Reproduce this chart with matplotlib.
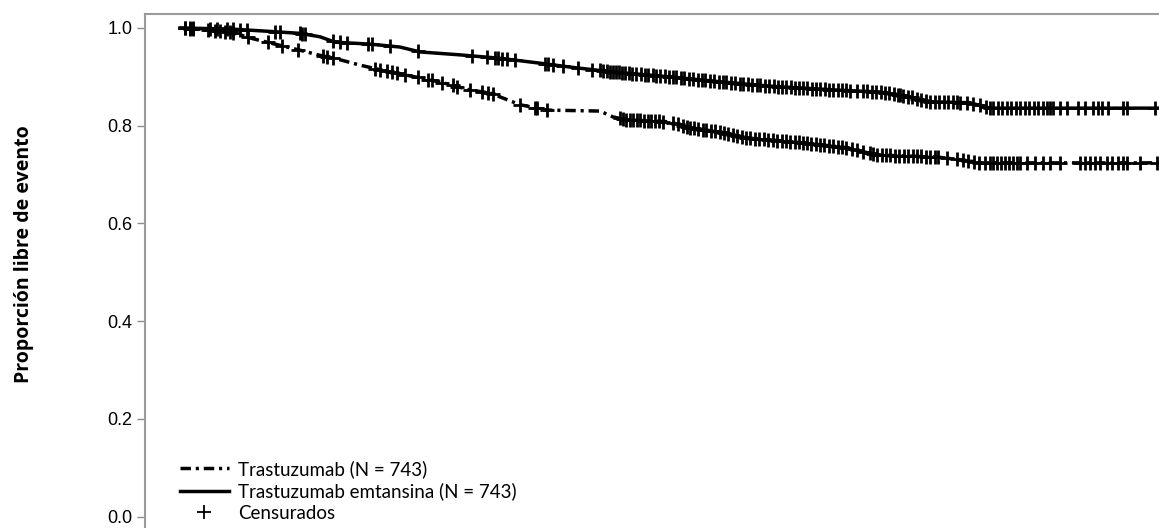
import matplotlib.pyplot as plt
import numpy as np
from matplotlib.lines import Line2D

t_tdm1 = [0, 5.0, 9.0, 12.0, 14.0, 15.5, 19.0, 22.0, 24.0, 28.0, 32.0, 36.0, 39.0,
          43.3, 49.0, 54.0, 59.0, 65.7, 70.0, 73.0, 75.0, 79.0, 81.0, 100]
s_tdm1 = [1.000, 0.998, 0.993, 0.989, 0.982, 0.971, 0.967, 0.961, 0.951, 0.945, 0.938,
          0.928, 0.920, 0.910, 0.900, 0.890, 0.881, 0.873, 0.869, 0.859, 0.849, 0.847,
          0.836, 0.836]

t_tras = [0, 5.0, 7.3, 8.7, 10.7, 12.3, 13.8, 16.0, 18.0, 21.0, 24.0, 26.3, 29.0, 31.0,
          34.0, 36.7, 42.0, 43.3, 44.7, 49.0, 51.0, 54.0, 56.7, 59.0, 62.3, 66.7, 69.7,
          75.7, 79.0, 80.0, 100]
s_tras = [1.000, 0.992, 0.978, 0.971, 0.961, 0.953, 0.945, 0.935, 0.924, 0.910, 0.898,
          0.888, 0.873, 0.867, 0.843, 0.832, 0.830, 0.818, 0.812, 0.808, 0.796, 0.787,
          0.775, 0.771, 0.765, 0.755, 0.740, 0.736, 0.728, 0.724, 0.724]

# Tiempos censurados
cens_tdm1 = [0.5, 1.0, 1.3, 3.0, 3.7, 4.7, 5.3, 6.0, 6.7, 9.5, 10.0, 12.0, 12.2, 12.5, 15.3,
             16.0, 16.7, 18.8, 19.2, 21.0, 23.8, 29.2, 30.7, 31.5, 31.8, 32.2, 32.7, 33.5,
             36.5, 36.8, 37.3, 38.3, 39.8, 41.2, 42.0, 42.3, 42.7, 43.0,
             43.3, 43.6, 43.9, 44.2, 44.5, 44.9, 45.2, 45.6, 46.1, 46.5, 46.8, 47.3, 47.6,
             48.0, 48.5, 48.9, 49.3, 49.6, 50.1, 50.4, 50.9, 51.3, 51.8, 52.2, 52.5, 53.0,
             53.4, 53.9, 54.3, 54.6, 55.1, 55.5, 56.0, 56.3, 56.8, 57.2, 57.7, 58.0, 58.5,
             58.9, 59.4, 59.8, 60.2, 60.6, 61.1, 61.5, 61.9, 62.3, 62.7, 63.2, 63.6, 64.0,
             64.5, 64.9, 65.3, 65.8, 66.2, 66.6, 67.0, 67.7, 68.3, 68.7, 69.2, 69.6, 70.1,
             70.5, 70.9, 71.4, 71.8, 72.0, 72.3, 72.8, 73.2, 73.7, 74.1, 74.6, 75.0, 75.5,
             75.9, 76.4, 76.8, 77.3, 77.7, 78.0, 78.7, 79.3, 80.0, 80.6, 81.0, 81.3, 81.8,
             82.2, 82.7, 83.1, 83.6, 84.0, 84.5, 84.9, 85.4, 85.8, 86.3, 86.7, 87.0, 87.3,
             88.0, 88.7, 89.8, 90.5, 91.3, 91.8, 92.2, 92.8, 94.3, 94.7, 97.5]
cens_tras = [0.5, 1.0, 1.3, 2.8, 3.5, 4.0, 4.5, 5.0, 5.3, 6.8, 8.8, 10.2, 11.8, 14.3, 14.7,
             15.3, 19.5, 20.0, 20.7, 21.2, 21.7, 22.5, 23.8, 24.8, 25.2, 26.2, 27.3, 27.7,
             29.0, 30.2, 30.8, 31.3, 34.0, 35.5, 35.7, 36.7,
             44.0, 44.3, 44.6, 45.0, 45.3, 45.7, 46.0, 46.4, 46.8, 47.1, 47.5, 47.9, 48.3,
             49.3, 49.8, 50.3, 50.7, 51.0, 51.4, 51.8, 52.3, 52.6, 53.1, 53.5, 54.0, 54.4,
             54.8, 55.3, 55.7, 56.2, 56.6, 57.0, 57.5, 57.9, 58.4, 58.8, 59.3, 59.7, 60.2,
             60.6, 61.0, 61.5, 61.9, 62.3, 62.7, 63.1, 63.6, 64.0, 64.4, 64.9, 65.3, 65.8,
             66.2, 66.6, 67.2, 67.7, 68.3, 69.0, 69.3, 69.7, 70.2, 70.6, 71.0, 71.5, 71.9,
             72.4, 72.8, 73.3, 73.7, 74.1, 74.6, 75.0, 75.5, 75.8, 76.7, 77.7, 78.3, 78.8,
             79.4, 79.9, 80.5, 81.0, 81.3, 81.7, 82.1, 82.5, 82.9, 83.3, 83.7, 84.0, 84.7,
             85.5, 86.3, 87.0, 88.0, 90.0, 90.5, 91.0, 91.5, 92.0, 92.7, 93.2, 93.8, 94.3,
             94.7, 96.0, 97.7]

labels = ['Trastuzumab (N = 743)', 'Trastuzumab emtansina (N = 743)', 'Censurados']
yticks = [0.0, 0.2, 0.4, 0.6, 0.8, 1.0]

W, H = 1159, 528
fig = plt.figure(figsize=(W / 100, H / 100), dpi=100)
# el eje se sale por abajo y por la derecha (imagen recortada)
ax = fig.add_axes([145 / W, 1 - 546 / H, (1200 - 145) / W, (546 - 14) / H])

dash = (0, (3, 1.4, 0.9, 1.4))
ax.plot(t_tras, s_tras, color='black', lw=2.5, linestyle=dash)
ax.plot(t_tdm1, s_tdm1, color='black', lw=2.5)

ax.plot(cens_tras, np.interp(cens_tras, t_tras, s_tras), ls='none', marker='+',
        ms=10, mew=2.0, color='black')
ax.plot(cens_tdm1, np.interp(cens_tdm1, t_tdm1, s_tdm1), ls='none', marker='+',
        ms=10, mew=2.0, color='black')

ax.set_xlim(-3.5, 102)
ax.set_ylim(-0.06, 1 + 14 / 489)
ax.set_yticks(yticks)
ax.set_yticklabels([f'{v:.1f}' for v in yticks], fontsize=13, family='Liberation Sans')
ax.set_xticks([])
ax.tick_params(axis='y', length=6, width=1, color='#8c8c8c', pad=3)
for side in ['top', 'left']:
    ax.spines[side].set_color('#9a9a9a')
    ax.spines[side].set_linewidth(1.5)
ax.spines['right'].set_visible(False)
ax.spines['bottom'].set_visible(False)

fig.text(24 / W, 1 - 254 / H, 'Proporción libre de evento', rotation=90,
         ha='center', va='center', fontsize=14, fontweight='bold', family='Open Sans')

handles = [Line2D([], [], color='black', lw=2.5, linestyle=dash),
           Line2D([], [], color='black', lw=2.5),
           Line2D([], [], color='black', ls='none', marker='+', ms=10, mew=1.3)]
fig.legend(handles, labels, loc='lower left', bbox_to_anchor=(180 / W, 1 - 522 / H),
           frameon=False, prop={'family': 'Lato', 'size': 13.5}, handlelength=2.6,
           handletextpad=0.5, labelspacing=0.25, borderpad=0, borderaxespad=0)

plt.savefig('out.png', dpi=100)
